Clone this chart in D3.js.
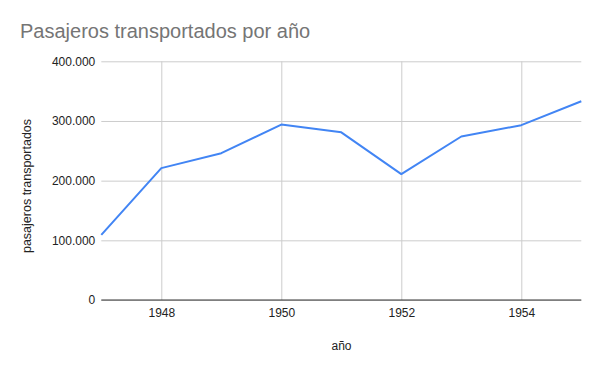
<!DOCTYPE html>
<html><head><meta charset="utf-8">
<script src="https://cdn.jsdelivr.net/npm/d3@7"></script>
<style>body{margin:0;background:#fff}svg{display:block}text{font-family:"Liberation Sans",Arial,sans-serif}</style>
</head><body>
<svg id="c" width="600" height="371"></svg>
<script>
const years = [1947,1948,1949,1950,1951,1952,1953,1954,1955];
const pasajeros = [109000,221000,246000,294000,281000,211000,274000,293000,333000];
const xTicks = [1948,1950,1952,1954];
const yTicks = [0,100000,200000,300000,400000];
const title = "Pasajeros transportados por año";
const xTitle = "año";
const yTitle = "pasajeros transportados";

const svg = d3.select("#c");
const W=600,H=371;
svg.append("rect").attr("width",W).attr("height",H).attr("fill","#fff");
const m={l:101.3,r:581.3,t:61.3,b:300};
const x=d3.scaleLinear().domain([1947,1955]).range([m.l,m.r]);
const y=d3.scaleLinear().domain([0,400000]).range([m.b,m.t]);
const fmt=v=>d3.format(",")(v).replace(/,/g,".");

const gy=svg.append("g").attr("transform",`translate(${m.l},0)`)
 .call(d3.axisLeft(y).tickValues(yTicks).tickSize(-(m.r-m.l)).tickFormat(fmt).tickPadding(6));
gy.select(".domain").remove();
gy.selectAll(".tick line").attr("stroke","#cccccc");
gy.selectAll(".tick text").attr("font-size",12).attr("fill","#222");
const gx=svg.append("g").attr("transform",`translate(0,${m.b})`)
 .call(d3.axisBottom(x).tickValues(xTicks).tickSize(-(m.b-m.t)).tickFormat(d3.format("d")).tickPadding(8));
gx.select(".domain").remove();
gx.selectAll(".tick line").attr("stroke","#cccccc");
gx.selectAll(".tick text").attr("font-size",12).attr("fill","#222");
svg.append("line").attr("x1",m.l).attr("x2",m.r).attr("y1",y(0)).attr("y2",y(0)).attr("stroke","#333").attr("stroke-width",1);

svg.append("path").datum(years.map((d,i)=>[d,pasajeros[i]]))
 .attr("fill","none").attr("stroke","#4285f4").attr("stroke-width",2).attr("stroke-linejoin","round")
 .attr("d",d3.line().x(d=>x(d[0])).y(d=>y(d[1])));

svg.append("text").attr("x",20).attr("y",38).attr("font-size",20).attr("fill","#757575").text(title);
svg.append("text").attr("x",341.5).attr("y",350).attr("text-anchor","middle").attr("font-size",12).attr("fill","#222").text(xTitle);
svg.append("text").attr("transform","translate(31,186) rotate(-90)").attr("text-anchor","middle").attr("font-size",12.5).attr("fill","#222").text(yTitle);
</script>
</body></html>
